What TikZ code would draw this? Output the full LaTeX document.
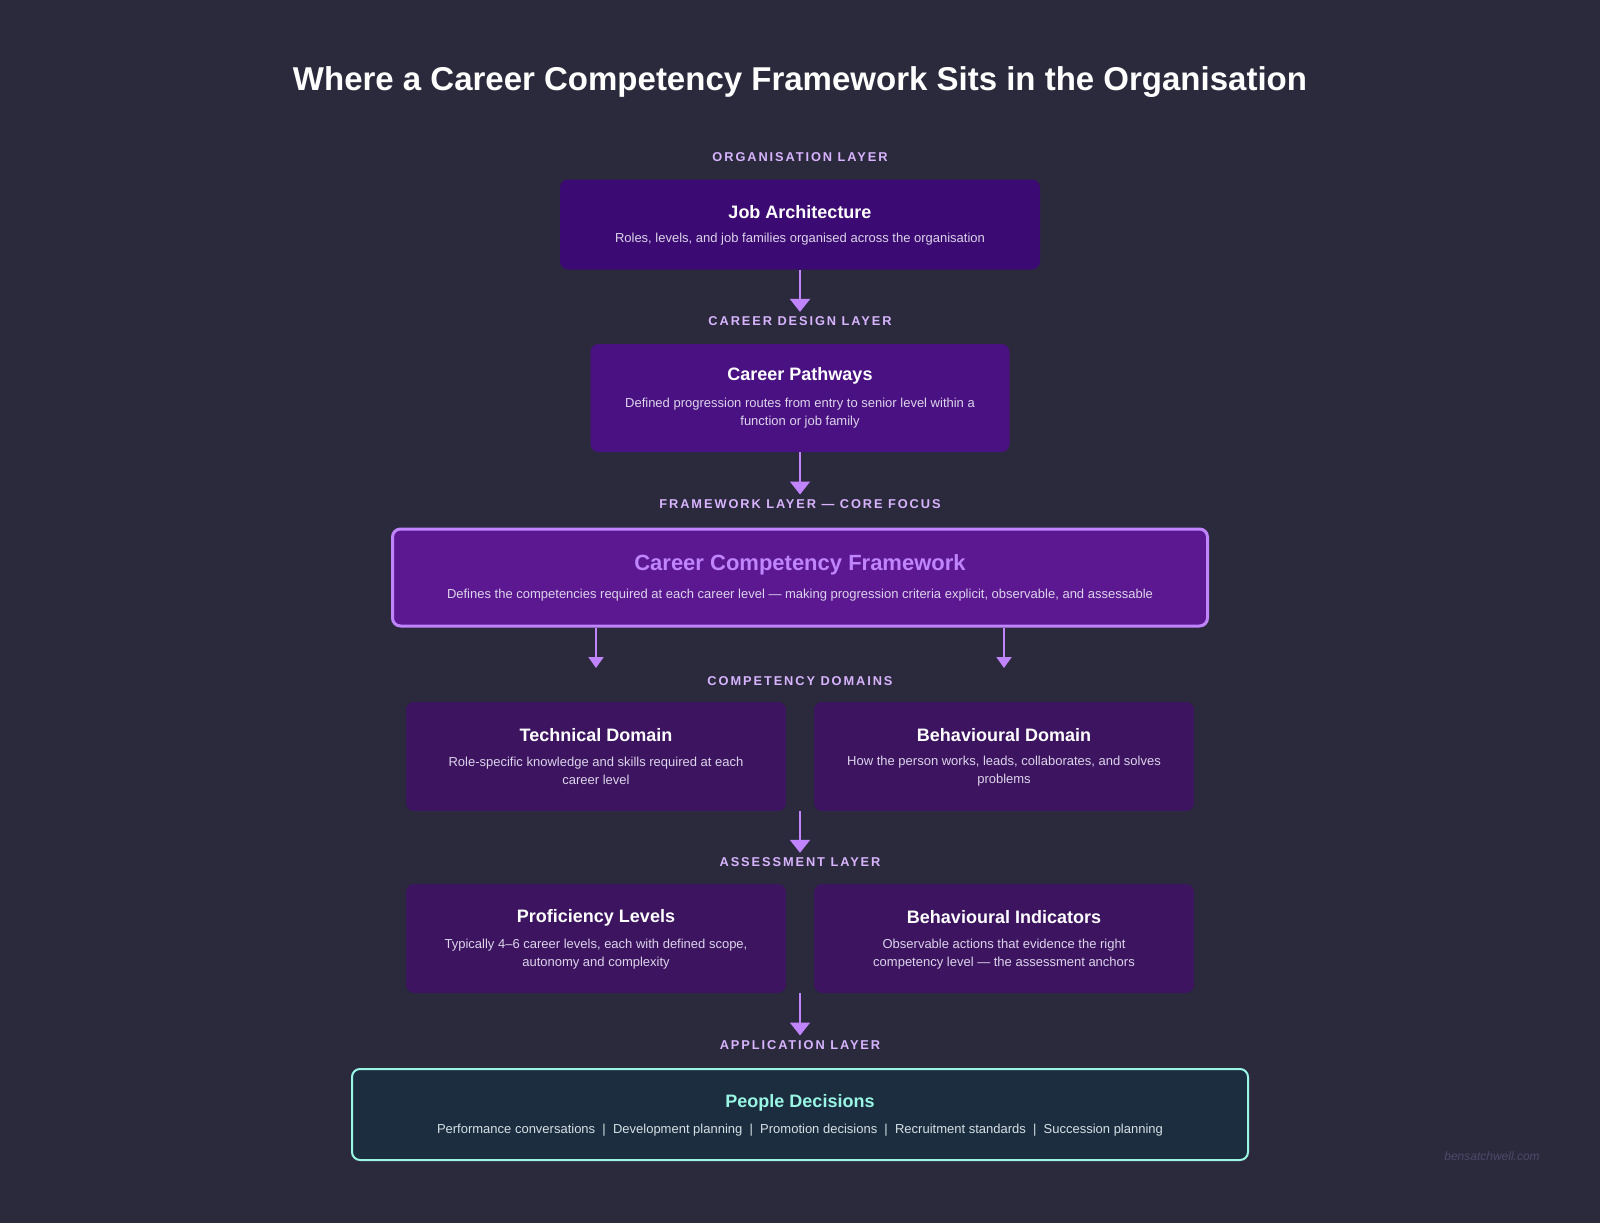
\documentclass[tikz,border=0pt]{standalone}
\usepackage{fontspec}
\setmainfont{Liberation Sans}
\usetikzlibrary{arrows.meta}

\definecolor{bgdark}{HTML}{2B2A3D}
\definecolor{jobfill}{HTML}{3B0A72}
\definecolor{pathfill}{HTML}{4A1182}
\definecolor{frameworkfill}{HTML}{5B1891}
\definecolor{domainfill}{HTML}{3C1460}
\definecolor{peoplefill}{HTML}{1B2D3E}
\definecolor{accentpurple}{HTML}{C084FC}
\definecolor{labelpurple}{HTML}{D8B4FE}
\definecolor{desctext}{HTML}{DCD4EA}
\definecolor{peopledesc}{HTML}{D6E0E6}
\definecolor{accentteal}{HTML}{99F6E4}
\definecolor{creditgrey}{HTML}{4B4968}

\tikzset{
	layerlabel/.style={font=\bfseries\fontsize{12.8}{15}\selectfont\addfontfeature{LetterSpace=15},
		text=labelpurple, inner sep=0pt, outer sep=5pt, text height=9pt, text depth=0pt},
	card/.style={rounded corners=8pt, inner sep=0pt},
	cardtitle/.style={font=\bfseries\fontsize{18}{22}\selectfont, text=white, inner sep=0pt},
	carddesc/.style={font=\fontsize{13}{18}\selectfont, text=desctext, align=center, inner sep=0pt},
	flowarrow/.style={draw=accentpurple, line width=2pt, -{Triangle[width=20pt,length=13pt]}},
	brancharrow/.style={draw=accentpurple, line width=2pt, -{Triangle[width=15pt,length=11pt]}}
}

\begin{document}
\begin{tikzpicture}[x=1pt,y=-1pt]
		%%%%% START %%%%%
		\fill[bgdark] (0,0) rectangle (1600,1223);
		
		\node[font=\bfseries\fontsize{33}{38}\selectfont, text=white] (heading) at (800,82.5)
			{Where a Career Competency Framework Sits in the Organisation};
		
		% organisation layer
		\node[layerlabel] (lblorg) at (800,157) {ORGANISATION LAYER};
		\node[card, fill=jobfill, minimum width=480pt, minimum height=90pt] (job) at (800,224.5) {};
		\node[cardtitle] (jobtitle) at (800,211.7) {Job Architecture};
		\node[carddesc] (jobdesc) at (800,239.5) {Roles, levels, and job families organised across the organisation};
		
		% career design layer
		\node[layerlabel] (lblcareer) at (800,321.4) {CAREER DESIGN LAYER};
		\node[card, fill=pathfill, minimum width=419pt, minimum height=108pt] (path) at (800,398) {};
		\node[cardtitle] (pathtitle) at (800,375.5) {Career Pathways};
		\node[carddesc] (pathdesc) at (800,413.5) {Defined progression routes from entry to senior level within a\\function or job family};
		
		% framework layer
		\node[layerlabel] (lblframework) at (800,504) {FRAMEWORK LAYER --- CORE FOCUS};
		\node[card, fill=frameworkfill, draw=accentpurple, line width=3pt, minimum width=815pt, minimum height=97pt] (framework) at (800,577.5) {};
		\node[cardtitle, text=accentpurple, font=\bfseries\fontsize{22}{26}\selectfont] (frameworktitle) at (800,565) {Career Competency Framework};
		\node[carddesc] (frameworkdesc) at (800,595) {Defines the competencies required at each career level --- making progression criteria explicit, observable, and assessable};
		
		% competency domains
		\node[layerlabel] (lbldomains) at (800,680.6) {COMPETENCY DOMAINS};
		\node[card, fill=domainfill, minimum width=380pt, minimum height=109pt] (tech) at (596,756.5) {};
		\node[cardtitle] (techtitle) at (596,735) {Technical Domain};
		\node[carddesc] (techdesc) at (596,771) {Role-specific knowledge and skills required at each\\career level};
		\node[card, fill=domainfill, minimum width=380pt, minimum height=109pt] (behav) at (1004,756.5) {};
		\node[cardtitle] (behavtitle) at (1004,735) {Behavioural Domain};
		\node[carddesc] (behavdesc) at (1004,771) {How the person works, leads, collaborates, and solves\\problems};
		
		% assessment layer
		\node[layerlabel] (lblassess) at (800,862.3) {ASSESSMENT LAYER};
		\node[card, fill=domainfill, minimum width=380pt, minimum height=109pt] (prof) at (596,938.5) {};
		\node[cardtitle] (proftitle) at (596,917.5) {Proficiency Levels};
		\node[carddesc] (profdesc) at (596,954.5) {Typically 4--6 career levels, each with defined scope,\\autonomy and complexity};
		\node[card, fill=domainfill, minimum width=380pt, minimum height=109pt] (indic) at (1004,938.5) {};
		\node[cardtitle] (indictitle) at (1004,917.5) {Behavioural Indicators};
		\node[carddesc] (indicdesc) at (1004,954.5) {Observable actions that evidence the right\\competency level --- the assessment anchors};
		
		% application layer
		\node[layerlabel] (lblapply) at (800,1045) {APPLICATION LAYER};
		\node[card, fill=peoplefill, draw=accentteal, line width=2pt, minimum width=896pt, minimum height=91pt] (people) at (800,1114.5) {};
		\node[cardtitle, text=accentteal] (peopletitle) at (800,1102.5) {People Decisions};
		\node[carddesc, text=peopledesc] (peopledesc) at (800,1130.5) {Performance conversations~~|~~Development planning~~|~~Promotion decisions~~|~~Recruitment standards~~|~~Succession planning};
		
		% connectors
		\coordinate (techtip) at (596,668);
		\coordinate (behavtip) at (1004,668);
		\draw[flowarrow] (job) -- (lblcareer);
		\draw[flowarrow] (path) -- (lblframework);
		\draw[brancharrow] (framework.south -| tech) -- (techtip);
		\draw[brancharrow] (framework.south -| behav) -- (behavtip);
		\draw[flowarrow] (tech.south -| lblassess) -- (lblassess);
		\draw[flowarrow] (prof.south -| lblapply) -- (lblapply);
		
		\node[font=\itshape\fontsize{12}{14}\selectfont, text=creditgrey] (credit) at (1492,1155.7) {bensatchwell.com};
		%%%%% END %%%%%
\end{tikzpicture}
\end{document}
